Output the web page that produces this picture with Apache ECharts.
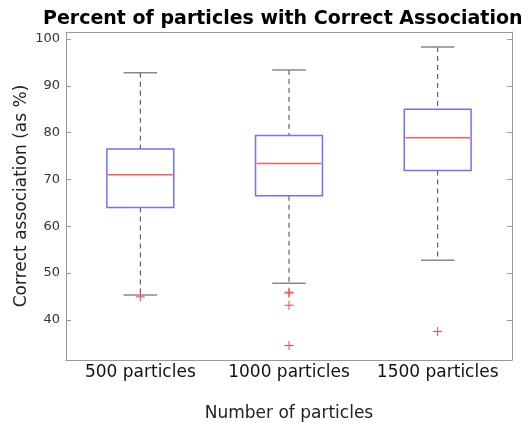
<!DOCTYPE html>
<html><head><meta charset="utf-8">
<script src="https://cdn.jsdelivr.net/npm/echarts@6/dist/echarts.min.js"></script>
<style>html,body{margin:0;padding:0;background:#fff}#c{width:532px;height:424px}</style>
</head><body><div id="c"></div>
<script>
var categories = ['500 particles', '1000 particles', '1500 particles'];
var lowWhisker = [45.3, 47.8, 52.7];
var q1 = [64.0, 66.5, 71.9];
var median = [71.0, 73.4, 78.9];
var q3 = [76.5, 79.4, 85.0];
var highWhisker = [92.8, 93.4, 98.3];
var outliers = [[0, 44.9], [1, 45.9], [1, 45.7], [1, 43.1], [1, 34.5], [2, 37.5]];
var yTicks = [40, 50, 60, 70, 80, 90, 100];

var boxData = categories.map(function (c, i) {
  return [i, lowWhisker[i], q1[i], median[i], q3[i], highWhisker[i]];
});

var chart = echarts.init(document.getElementById('c'), null, {renderer: 'canvas'});
var font = 'DejaVu Sans';
chart.setOption({
  animation: false,
  title: {
    text: 'Percent of particles with Correct Association',
    left: 38, top: 5,
    textStyle: {fontFamily: font, fontSize: 19, fontWeight: 'bold', color: '#000'}
  },
  grid: {left: 66, right: 20, top: 32, bottom: 64, show: false, containLabel: false, outerBoundsMode: 'none'},
  xAxis: [{
    type: 'category', data: categories, position: 'bottom',
    name: 'Number of particles', nameLocation: 'middle', nameGap: 45, nameMoveOverlap: false,
    nameTextStyle: {fontFamily: font, fontSize: 17, color: '#222'},
    axisLine: {lineStyle: {color: '#999', width: 1}},
    axisTick: {inside: true, alignWithLabel: true, length: 5, lineStyle: {color: '#999'}},
    axisLabel: {fontFamily: font, fontSize: 17, color: '#111', margin: 4, interval: 0},
    splitLine: {show: false}
  }, {
    type: 'category', data: categories, position: 'top',
    axisLine: {lineStyle: {color: '#999', width: 1}},
    axisTick: {inside: true, alignWithLabel: true, length: 5, lineStyle: {color: '#999'}},
    axisLabel: {show: false}
  }],
  yAxis: [{
    type: 'value', min: 31.4, max: 101.5, position: 'left',
    name: 'Correct association (as %)', nameLocation: 'middle', nameGap: 36, nameMoveOverlap: false,
    nameTextStyle: {fontFamily: font, fontSize: 17, color: '#222'},
    axisLine: {show: true, lineStyle: {color: '#999', width: 1}},
    axisTick: {show: true, inside: true, length: 5, customValues: yTicks, lineStyle: {color: '#999'}},
    axisLabel: {fontFamily: font, fontSize: 13, color: '#333', customValues: yTicks, margin: 6},
    splitLine: {show: false}
  }, {
    type: 'value', min: 31.4, max: 101.5, position: 'right',
    axisLine: {show: true, lineStyle: {color: '#999', width: 1}},
    axisTick: {show: true, inside: true, length: 5, customValues: yTicks, lineStyle: {color: '#999'}},
    axisLabel: {show: false},
    splitLine: {show: false}
  }],
  series: [{
    type: 'custom',
    xAxisIndex: 0, yAxisIndex: 0,
    data: boxData,
    renderItem: function (params, api) {
      var idx = api.value(0);
      var band = api.size([1, 0])[0];
      var bw = band * 0.45, cw = bw / 2;
      var pLow = api.coord([idx, api.value(1)]);
      var pQ1 = api.coord([idx, api.value(2)]);
      var pMed = api.coord([idx, api.value(3)]);
      var pQ3 = api.coord([idx, api.value(4)]);
      var pHigh = api.coord([idx, api.value(5)]);
      var x = pMed[0];
      var dash = {stroke: '#444', lineWidth: 1, lineDash: [5, 4]};
      return {
        type: 'group',
        children: [
          {type: 'line', shape: {x1: x, y1: pHigh[1], x2: x, y2: pQ3[1]}, style: dash},
          {type: 'line', shape: {x1: x, y1: pQ1[1], x2: x, y2: pLow[1]}, style: dash},
          {type: 'line', shape: {x1: x - cw / 2, y1: pHigh[1], x2: x + cw / 2, y2: pHigh[1]}, style: {stroke: '#888', lineWidth: 1.5}},
          {type: 'line', shape: {x1: x - cw / 2, y1: pLow[1], x2: x + cw / 2, y2: pLow[1]}, style: {stroke: '#888', lineWidth: 1.5}},
          {type: 'rect', shape: {x: x - bw / 2, y: pQ3[1], width: bw, height: pQ1[1] - pQ3[1]}, style: {fill: 'none', stroke: '#7070ff', lineWidth: 1.5}},
          {type: 'line', shape: {x1: x - bw / 2 + 1, y1: pMed[1], x2: x + bw / 2 - 1, y2: pMed[1]}, style: {stroke: '#ff5a5a', lineWidth: 1.4}}
        ]
      };
    }
  }, {
    type: 'custom',
    xAxisIndex: 0, yAxisIndex: 0,
    data: outliers,
    renderItem: function (params, api) {
      var p = api.coord([api.value(0), api.value(1)]);
      var s = 4.5;
      return {
        type: 'group',
        children: [
          {type: 'line', shape: {x1: p[0] - s, y1: p[1], x2: p[0] + s, y2: p[1]}, style: {stroke: '#ff4040', lineWidth: 1}},
          {type: 'line', shape: {x1: p[0], y1: p[1] - s, x2: p[0], y2: p[1] + s}, style: {stroke: '#ff4040', lineWidth: 1}}
        ]
      };
    }
  }]
});
</script></body></html>
